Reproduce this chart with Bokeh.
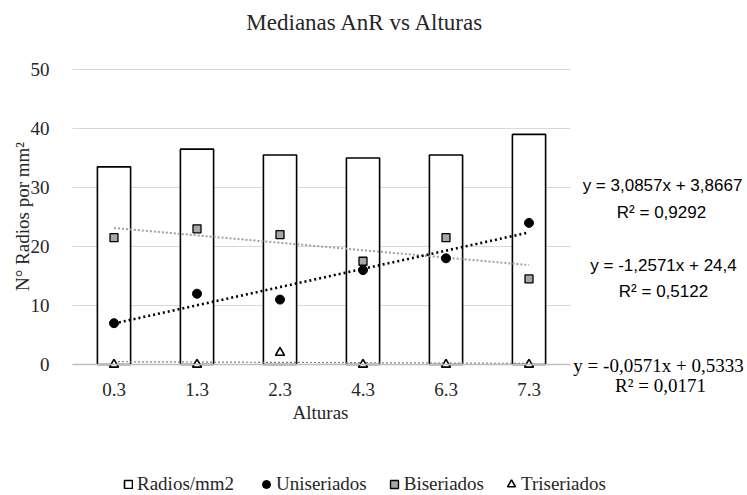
import numpy as np
from bokeh.plotting import figure
from bokeh.models import (Range1d, FixedTicker, Label, Legend, LegendItem,
                          LinearAxis, Grid)
from bokeh.embed import file_html
from bokeh.resources import INLINE

# Median ray counts per height class
alturas = ["0.3", "1.3", "2.3", "4.3", "6.3", "7.3"]
radios_mm2 = [33.5, 36.5, 35.5, 35.0, 35.5, 39.0]
uniseriados = [7, 12, 11, 16, 18, 24]
biseriados = [21.5, 23, 22, 17.5, 21.5, 14.5]
triseriados = [0, 0, 2, 0, 0, 0]
y_ticks = [0, 10, 20, 30, 40, 50]

pos = np.arange(1, len(alturas) + 1)

SERIF = "Liberation Serif"
SANS = "Liberation Sans"
TXT = "#262626"

# canvas and the pixel box that holds the data region
W, H = 747, 495
L, R, T, B = 72, 570, 69, 364
ux = (R - L) / len(alturas)
uy = (B - T) / 50.0
x_range = Range1d(0.5 - L / ux, 6.5 + (W - R) / ux)
y_range = Range1d(0 - (H - B) / uy, 50 + T / uy)


def px_x(px):
    return x_range.start + px / ux


def px_y(py):
    return y_range.end - py / uy


def fmt(v):
    s = f"{v:.4f}".rstrip("0").rstrip(".")
    return s.replace(".", ",")


def linear_fit(vals):
    y = np.asarray(vals, dtype=float)
    m, b = np.polyfit(pos, y, 1)
    pred = m * pos + b
    r2 = 1 - ((y - pred) ** 2).sum() / ((y - y.mean()) ** 2).sum()
    eq = f"y = {fmt(m)}x + {fmt(b)}"
    return pred, eq, f"R² = {fmt(round(r2, 4))}"


p = figure(width=W, height=H, output_backend="svg", toolbar_location=None,
           x_range=x_range, y_range=y_range, min_border=0,
           x_axis_location=None, y_axis_location=None)
p.title.text = ""
p.title.visible = False
p.outline_line_color = None
p.background_fill_color = "white"
p.border_fill_color = "white"
for g in p.grid:
    g.visible = False

# horizontal gridlines limited to the data region
ygrid = Grid(dimension=1, ticker=FixedTicker(ticks=y_ticks),
             grid_line_color="#d9d9d9", grid_line_width=1)
if "cross_bounds" in Grid.properties():
    ygrid.cross_bounds = (0.5, 6.5)
    p.add_layout(ygrid)
else:
    p.segment(x0=[0.5] * len(y_ticks), x1=[6.5] * len(y_ticks),
              y0=y_ticks, y1=y_ticks, line_color="#d9d9d9", line_width=1)

# axes pinned to the data region
yaxis = LinearAxis(fixed_location=0.5, ticker=FixedTicker(ticks=y_ticks))
xaxis = LinearAxis(fixed_location=0, ticker=FixedTicker(ticks=list(pos)),
                   bounds=(0.5, 6.5),
                   major_label_overrides={int(k): lab for k, lab in zip(pos, alturas)})
for ax in (xaxis, yaxis):
    ax.major_tick_line_color = None
    ax.minor_tick_line_color = None
    ax.major_label_text_font = SERIF
    ax.major_label_text_font_size = "19px"
    ax.major_label_text_color = TXT
yaxis.axis_line_color = None
yaxis.major_label_standoff = 17
xaxis.axis_line_color = "#bfbfbf"
xaxis.axis_line_width = 1.5
xaxis.major_label_standoff = 12
p.add_layout(yaxis, "left")
p.add_layout(xaxis, "below")

# bars
bars = p.vbar(x=pos, top=radios_mm2, bottom=0, width=0.4,
              fill_color="white", line_color="black", line_width=1.6)

# trend lines
u_pred, u_eq, u_r2 = linear_fit(uniseriados)
b_pred, b_eq, b_r2 = linear_fit(biseriados)
t_pred, t_eq, t_r2 = linear_fit(triseriados)

p.line(pos, t_pred, line_color="#7f7f7f", line_width=1.2, line_dash="2 2")
p.line(pos, b_pred, line_color="#a0a0a0", line_width=2, line_dash="2 2")
p.line(pos, u_pred, line_color="black", line_width=2.6, line_dash="2 3")

# markers
r_uni = p.scatter(pos, uniseriados, marker="circle", size=9,
                  fill_color="black", line_color="black")
r_bis = p.scatter(pos, biseriados, marker="square", size=8,
                  fill_color="#a6a6a6", line_color="black", line_width=1.3)
r_tri = p.scatter(pos, triseriados, marker="triangle", size=9,
                  fill_color="white", line_color="black", line_width=1.6)

# title and axis titles
texts = [
    (365, 22, "Medianas AnR vs Alturas", SERIF, "23px", 0.0, TXT),
    (320, 412, "Alturas", SERIF, "19px", 0.0, TXT),
    (22, 216, "N° Radios por mm²", SERIF, "19px", np.pi / 2, TXT),
    # trend-line equations
    (662, 185, u_eq, SANS, "17px", 0.0, "black"),
    (661, 212, u_r2, SANS, "17px", 0.0, "black"),
    (663, 265, b_eq, SANS, "17px", 0.0, "black"),
    (663, 291, b_r2, SANS, "17px", 0.0, "black"),
    (658, 365, t_eq, SERIF, "19px", 0.0, "black"),
    (660, 385, t_r2, SERIF, "19px", 0.0, "black"),
]
for x, y, txt, font, size, ang, col in texts:
    p.add_layout(Label(x=px_x(x), y=px_y(y), text=txt, angle=ang,
                       text_align="center", text_baseline="middle",
                       text_font=font, text_font_size=size, text_color=col))


def styled_legend(items, loc, glyph, standoff, spacing):
    lg = Legend(items=items, orientation="horizontal", location=loc)
    lg.label_text_font = SERIF
    lg.label_text_font_size = "19px"
    lg.label_text_color = TXT
    lg.glyph_width = glyph
    lg.glyph_height = glyph
    lg.label_height = 18
    lg.label_standoff = standoff
    lg.spacing = spacing
    lg.padding = 0
    lg.margin = 0
    lg.border_line_color = None
    lg.background_fill_alpha = 0
    return lg


# bar key uses a small box; marker keys need a larger box for full-size symbols
p.add_layout(styled_legend([LegendItem(label="Radios/mm2", renderers=[bars])],
                           (123, 0), 10, 4, 0))
p.add_layout(styled_legend([
    LegendItem(label="Uniseriados", renderers=[r_uni]),
    LegendItem(label="Biseriados", renderers=[r_bis]),
    LegendItem(label="Triseriados", renderers=[r_tri]),
], (256, 0), 20, -2, 17))

open("out.html", "w").write(file_html(p, INLINE))
